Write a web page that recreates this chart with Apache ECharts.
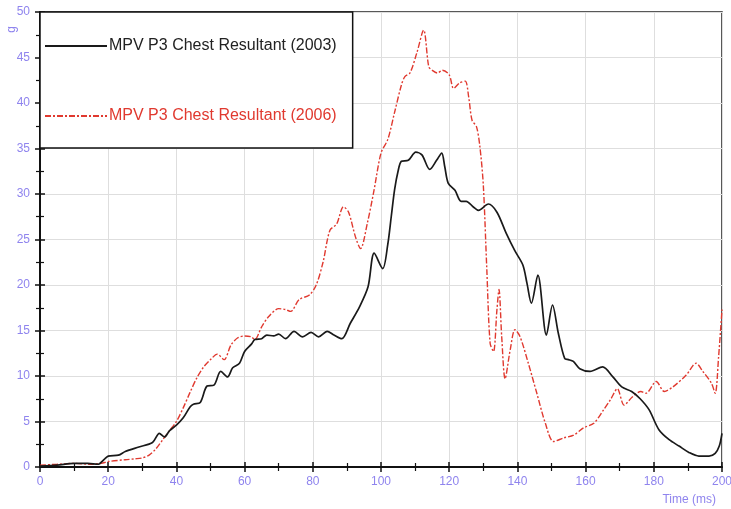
<!DOCTYPE html>
<html>
<head>
<meta charset="utf-8">
<script src="https://cdn.jsdelivr.net/npm/echarts@6/dist/echarts.min.js"></script>
<style>html,body{margin:0;padding:0;background:#fff;}#c{width:731px;height:509px;}</style>
</head>
<body>
<div id="c"></div>
<script>
// ---- Data (time in ms, resultant acceleration in g) ----
var seriesNames = ['MPV P3 Chest Resultant (2003)', 'MPV P3 Chest Resultant (2006)'];
var xTicks = [0, 20, 40, 60, 80, 100, 120, 140, 160, 180, 200];
var yTicks = [0, 5, 10, 15, 20, 25, 30, 35, 40, 45, 50];

var t2003 = [0, 5, 10, 14, 17, 19, 20, 23, 25, 29, 33, 35, 36.5, 38, 40, 42, 44, 45, 47, 49, 51, 53, 55, 56.5, 58.5, 60, 62, 63, 65, 66.5, 68.5, 70, 72, 74.5, 77, 79.5, 81.7, 84.2, 86.2, 88.5, 91, 93.7, 96.2, 98, 100.5, 102, 103, 104, 105, 106, 108, 110.2, 112, 114.3, 116.3, 117.8, 118.7, 119.7, 121.7, 123.5, 125, 127, 128.6, 131.5, 134, 136.7, 139.2, 141.6, 142.8, 144.1, 146, 148.5, 150.3, 152, 153.9, 155, 156.4, 158.3, 161.3, 165, 168, 170.6, 173.5, 176, 178.6, 181.5, 184.5, 187.4, 190.3, 193.2, 196.2, 198, 199.2, 200];
var g2003 = [0.1, 0.2, 0.4, 0.4, 0.3, 0.9, 1.2, 1.3, 1.7, 2.2, 2.7, 3.7, 3.3, 4.0, 4.6, 5.4, 6.6, 6.9, 7.1, 8.9, 9.0, 10.5, 9.9, 10.9, 11.4, 12.7, 13.5, 14.0, 14.1, 14.5, 14.4, 14.6, 14.1, 14.9, 14.3, 14.8, 14.3, 14.9, 14.5, 14.1, 15.8, 17.6, 19.8, 23.5, 21.8, 24.5, 27.5, 30.5, 32.5, 33.6, 33.7, 34.6, 34.3, 32.7, 33.7, 34.5, 33.0, 31.2, 30.4, 29.2, 29.2, 28.6, 28.2, 28.9, 28.0, 25.7, 23.8, 22.2, 20.2, 18.0, 21.1, 14.5, 17.8, 14.7, 11.9, 11.8, 11.6, 10.8, 10.5, 11.0, 9.9, 8.8, 8.3, 7.5, 6.3, 4.1, 3.0, 2.3, 1.6, 1.2, 1.2, 1.5, 2.3, 3.7];

var t2006 = [0, 5, 10, 15, 18, 20, 25, 28, 30, 32, 34, 36, 38, 40, 42, 44, 46, 48, 50, 52, 54, 56, 58, 60, 62, 63, 65, 67, 70, 72, 73.5, 76, 79, 81, 83, 85, 87, 89, 90.5, 92.5, 94, 96, 98, 100, 102, 104, 106, 107, 108.5, 110.5, 112.5, 114, 115, 116.5, 118, 120, 121.3, 123, 124.7, 125.7, 126.7, 128, 129, 130, 131, 132, 133, 134, 134.6, 135.4, 136.4, 137.9, 139.3, 140.8, 143.2, 145.7, 148.2, 150.6, 153.6, 156.5, 159.4, 162.4, 165.3, 167.3, 169.3, 171.3, 173.7, 176.2, 177.7, 180.7, 183.1, 185.6, 189.5, 192.4, 194.4, 196.9, 198, 199, 200];
var g2006 = [0.2, 0.3, 0.4, 0.3, 0.4, 0.6, 0.8, 0.9, 1.0, 1.3, 2.0, 3.0, 4.0, 5.0, 6.5, 8.2, 9.8, 11.0, 11.8, 12.4, 11.8, 13.4, 14.2, 14.4, 14.3, 14.0, 15.4, 16.5, 17.4, 17.3, 17.1, 18.4, 18.9, 20.0, 22.5, 26.0, 26.7, 28.6, 28.0, 25.3, 24.0, 26.8, 30.5, 34.5, 36.0, 39.0, 42.0, 42.9, 43.3, 45.5, 48.0, 44.0, 43.6, 43.3, 43.6, 43.1, 41.6, 42.2, 42.4, 40.7, 38.1, 37.4, 35.2, 31.0, 22.0, 13.6, 12.7, 17.3, 19.5, 14.3, 9.7, 12.9, 15.1, 14.3, 11.4, 8.1, 4.8, 2.8, 3.2, 3.5, 4.3, 4.8, 6.3, 7.4, 8.6, 6.8, 7.7, 8.3, 8.1, 9.4, 8.3, 8.8, 10.1, 11.4, 10.5, 9.2, 8.1, 12.1, 17.3];

function pairs(t, g) { return t.map(function (x, i) { return [x, g[i]]; }); }

var purple = '#8f84ee';
var chart = echarts.init(document.getElementById('c'), null, { renderer: 'canvas' });

var baseX = {
  type: 'value', min: xTicks[0], max: xTicks[xTicks.length - 1], interval: xTicks[1] - xTicks[0]
};
var baseY = {
  type: 'value', min: yTicks[0], max: yTicks[yTicks.length - 1], interval: yTicks[1] - yTicks[0]
};

chart.setOption({
  animation: false,
  backgroundColor: '#fff',
  grid: { left: 40, right: 9, top: 12, bottom: 42, outerBoundsMode: 'none', containLabel: false,
          show: true, borderColor: '#222', borderWidth: 1.5, backgroundColor: 'transparent' },
  xAxis: [
    Object.assign({}, baseX, {
      position: 'bottom',
      axisLine: { show: true, lineStyle: { color: '#111', width: 2 } },
      axisTick: { show: true, length: 5, lineStyle: { color: '#111', width: 1.5 } },
      minorTick: { show: true, splitNumber: 2, length: 4, lineStyle: { color: '#111', width: 1.2 } },
      axisLabel: { color: purple, fontSize: 12, fontFamily: 'Liberation Sans, Arial', margin: 9, showMaxLabel: true },
      splitLine: { show: true, lineStyle: { color: '#dedede', width: 1 } }
    }),
    Object.assign({}, baseX, {
      position: 'bottom',
      axisLine: { show: false },
      axisTick: { show: true, inside: true, length: 5, lineStyle: { color: '#111', width: 1.5 } },
      minorTick: { show: true, splitNumber: 2, length: 4, lineStyle: { color: '#111', width: 1.2 } },
      axisLabel: { show: false },
      splitLine: { show: false }
    })
  ],
  yAxis: [
    Object.assign({}, baseY, {
      position: 'left',
      axisLine: { show: true, lineStyle: { color: '#111', width: 2 } },
      axisTick: { show: true, length: 5, lineStyle: { color: '#111', width: 1.5 } },
      minorTick: { show: true, splitNumber: 2, length: 4, lineStyle: { color: '#111', width: 1.2 } },
      axisLabel: { color: purple, fontSize: 12, fontFamily: 'Liberation Sans, Arial', margin: 10 },
      splitLine: { show: true, lineStyle: { color: '#dedede', width: 1 } }
    }),
    Object.assign({}, baseY, {
      position: 'left',
      axisLine: { show: false },
      axisTick: { show: true, inside: true, length: 5, lineStyle: { color: '#111', width: 1.5 } },
      minorTick: { show: true, splitNumber: 2, length: 4, lineStyle: { color: '#111', width: 1.2 } },
      axisLabel: { show: false },
      splitLine: { show: false }
    })
  ],
  legend: {
    show: true,
    orient: 'vertical',
    left: 40, top: 12,
    padding: [26, 16, 24, 4],
    itemWidth: 62, itemHeight: 16, itemGap: 54,
    backgroundColor: '#fff',
    borderColor: '#111', borderWidth: 1.5,
    itemStyle: { opacity: 0 },
    data: [
      { name: seriesNames[0], textStyle: { color: '#222' } },
      { name: seriesNames[1], textStyle: { color: '#e0392f' } }
    ],
    textStyle: { fontSize: 16, fontFamily: 'Liberation Sans, Arial', padding: [0, 0, 0, -3] },
    z: 10
  },
  graphic: [
    { type: 'text', left: 6, top: 26, rotation: Math.PI / 2,
      style: { text: 'g', fill: purple, font: '12px "Liberation Sans", Arial' } },
    { type: 'text', right: 15, top: 494,
      style: { text: 'Time (ms)', fill: purple, font: '12px "Liberation Sans", Arial' } }
  ],
  series: [
    {
      name: seriesNames[0], type: 'line', xAxisIndex: 0, yAxisIndex: 0,
      data: pairs(t2003, g2003), showSymbol: false, symbol: 'none', smooth: 0.3,
      lineStyle: { color: '#1a1a1a', width: 1.7 }, itemStyle: { color: '#1a1a1a' }, z: 3
    },
    {
      name: seriesNames[1], type: 'line', xAxisIndex: 0, yAxisIndex: 0,
      data: pairs(t2006, g2006), showSymbol: false, symbol: 'none', smooth: 0.3,
      lineStyle: { color: '#e0392f', width: 1.4, type: [6, 2, 2, 2] }, itemStyle: { color: '#e0392f' }, z: 2
    }
  ]
});
</script>
</body>
</html>
